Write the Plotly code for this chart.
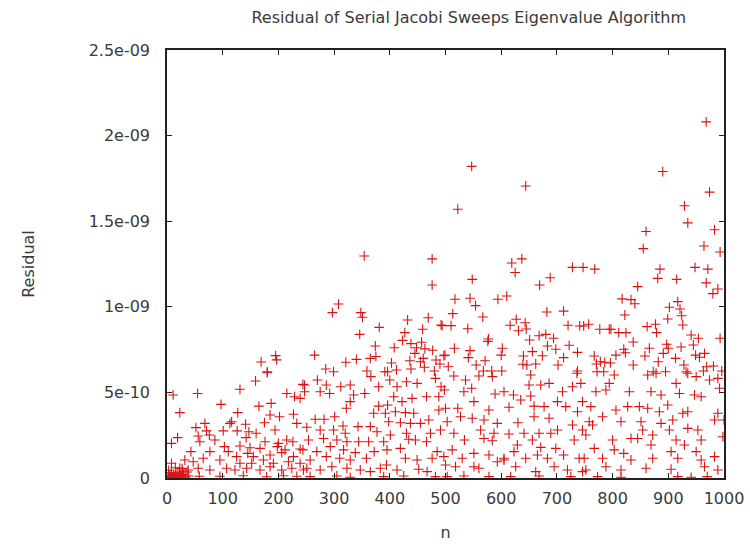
import plotly.graph_objects as go

TITLE = "Residual of Serial Jacobi Sweeps Eigenvalue Algorithm"
X_LABEL = "n"
Y_LABEL = "Residual"
x_ticks = [0, 100, 200, 300, 400, 500, 600, 700, 800, 900, 1000]
y_tick_vals = [0, 5e-10, 1e-9, 1.5e-9, 2e-9, 2.5e-9]
y_tick_text = ["0", "5e-10", "1e-09", "1.5e-09", "2e-09", "2.5e-09"]
UNIT = 1e-10  # residuals below are listed in units of 1e-10

# (n, residual / 1e-10), grouped by region
high_points = [
    (968, 20.8), (547, 18.2), (890, 17.9), (644, 17.06), (974, 16.7), (929, 15.9),
    (522, 15.7), (935, 14.9), (983, 14.5), (860, 14.4), (964, 13.55), (855, 13.4),
    (993, 13.2), (354, 12.97), (476, 12.8), (637, 12.8), (619, 12.56), (728, 12.3),
    (747, 12.3), (948, 12.3), (768, 12.2), (885, 12.2), (971, 12.2), (625, 12.0),
    (881, 11.66), (688, 11.7), (915, 11.6), (548, 11.6), (968, 11.4), (669, 11.27),
    (476, 11.27), (845, 11.18), (989, 11.04), (980, 10.77), (610, 10.63), (544, 10.5),
    (817, 10.46), (517, 10.44), (594, 10.44), (833, 10.42), (917, 10.3), (840, 10.18),
    (308, 10.16), (554, 10.07), (902, 9.97), (921, 9.87), (712, 9.75), (682, 9.7),
    (297, 9.66), (348, 9.66), (513, 9.6), (822, 9.52), (924, 9.48), (567, 9.4),
    (351, 9.39), (469, 9.36), (899, 9.29), (627, 9.27), (432, 9.23), (643, 9.07),
]
upper_mid_points = [
    (748, 8.88), (757, 8.98), (877, 8.98), (492, 8.94), (926, 8.94), (494, 8.9),
    (510, 8.9), (616, 8.92), (720, 8.92), (741, 8.88), (862, 8.84), (381, 8.8),
    (540, 8.72), (645, 8.7), (459, 8.69), (777, 8.69), (794, 8.69), (797, 8.69),
    (631, 8.6), (811, 8.49), (824, 8.49), (879, 8.49), (427, 8.49), (346, 8.39),
    (680, 8.39), (941, 8.35), (668, 8.31), (954, 8.16), (993, 8.16), (694, 8.16),
    (577, 8.12), (651, 8.06), (423, 8.04), (576, 7.98), (837, 7.94), (457, 7.93),
    (438, 7.85), (897, 7.81), (945, 7.77), (722, 7.75), (374, 7.71), (683, 7.71),
    (923, 7.65), (408, 7.61), (448, 7.61), (516, 7.58), (602, 7.58), (866, 7.58),
    (900, 7.58), (463, 7.54), (698, 7.52), (820, 7.52), (477, 7.46), (544, 7.44),
    (656, 7.38), (737, 7.34), (823, 7.32), (445, 7.28), (891, 7.28), (965, 7.28),
    (265, 7.18), (499, 7.18), (600, 7.18), (806, 7.18), (949, 7.18), (195, 7.15),
    (497, 7.14), (674, 7.14), (640, 7.13), (767, 7.13), (858, 7.13), (375, 7.1),
    (956, 7.05), (541, 7.03), (712, 7.03), (365, 6.99), (460, 6.99), (913, 6.99),
    (340, 6.93), (197, 6.9), (483, 6.89), (436, 6.85), (571, 6.85), (455, 6.79),
    (778, 6.79), (882, 6.79), (169, 6.78), (321, 6.76), (786, 6.76), (403, 6.72),
    (796, 6.72), (490, 6.66), (662, 6.66), (771, 6.66), (639, 6.64), (555, 6.6),
    (646, 6.6), (702, 6.6), (837, 6.6), (928, 6.6), (981, 6.54), (505, 6.5),
    (969, 6.5), (462, 6.47), (285, 6.37), (438, 6.37), (412, 6.31), (359, 6.25),
    (480, 6.25), (568, 6.25), (583, 6.25), (601, 6.25), (737, 6.25), (963, 6.25),
    (996, 6.25), (299, 6.21), (391, 6.21), (396, 6.21), (772, 6.21), (784, 6.21),
    (873, 6.21), (895, 6.21), (932, 6.21), (180, 6.2),
]
mid_points = [
    (180, 6.15), (736, 6.12), (878, 6.12), (935, 6.12), (653, 6.02), (803, 6.02),
    (863, 6.02), (515, 5.96), (560, 5.96), (366, 5.92), (584, 5.92), (950, 5.92),
    (482, 5.82), (989, 5.82), (270, 5.72), (400, 5.72), (536, 5.72), (974, 5.72),
    (159, 5.67), (430, 5.62), (449, 5.53), (686, 5.53), (743, 5.53), (794, 5.53),
    (914, 5.53), (244, 5.47), (247, 5.43), (286, 5.43), (329, 5.43), (650, 5.43),
    (671, 5.43), (312, 5.33), (380, 5.33), (413, 5.33), (492, 5.33), (728, 5.33),
    (547, 5.24), (992, 5.24), (131, 5.18), (498, 5.14), (788, 5.14), (247, 5.04),
    (275, 5.04), (533, 5.04), (605, 5.04), (710, 5.04), (770, 5.04), (830, 5.04),
    (869, 5.04), (55, 4.94), (215, 4.94), (292, 4.94), (355, 4.94), (920, 4.94),
    (589, 4.91), (11, 4.85), (335, 4.85), (622, 4.85), (887, 4.85), (947, 4.85),
    (653, 4.79), (229, 4.75), (407, 4.75), (466, 4.75), (488, 4.75), (959, 4.75),
    (239, 4.65), (440, 4.65), (635, 4.56), (329, 4.46), (422, 4.46), (551, 4.46),
    (701, 4.46), (746, 4.46), (187, 4.36), (97, 4.3), (396, 4.26), (899, 4.26),
    (165, 4.2), (380, 4.2), (659, 4.2), (677, 4.17), (716, 4.17), (761, 4.17),
    (827, 4.17), (848, 4.17), (614, 4.13), (322, 4.07), (500, 4.07), (522, 4.07),
    (863, 4.07), (488, 3.97), (578, 3.97), (806, 3.97), (410, 3.87), (737, 3.87),
    (884, 3.87), (935, 3.87), (23, 3.82), (127, 3.82), (428, 3.82), (371, 3.78),
    (392, 3.78), (443, 3.78), (926, 3.78), (989, 3.78), (227, 3.72), (185, 3.68),
    (202, 3.58), (301, 3.58), (527, 3.58), (659, 3.58), (782, 3.58), (548, 3.49),
    (686, 3.49), (266, 3.43), (282, 3.43), (470, 3.39), (569, 3.39), (908, 3.39),
    (983, 3.39), (1000, 3.39), (116, 3.29), (398, 3.29), (503, 3.29), (758, 3.29),
    (815, 3.29), (851, 3.29), (175, 3.23), (419, 3.23), (630, 3.23), (68, 3.19),
    (113, 3.19), (233, 3.19), (437, 3.19), (455, 3.19), (593, 3.19), (887, 3.19),
    (141, 3.14), (728, 3.1), (764, 3.1), (316, 3.04), (343, 3.0), (365, 3.0),
]
low_points = [
    (251, 2.96), (52, 2.94), (935, 2.9), (194, 2.8), (275, 2.8), (299, 2.8),
    (491, 2.8), (563, 2.8), (701, 2.8), (746, 2.8), (854, 2.8), (902, 2.8),
    (953, 2.8), (71, 2.75), (101, 2.75), (126, 2.75), (147, 2.7), (377, 2.7),
    (160, 2.61), (320, 2.61), (430, 2.61), (473, 2.61), (515, 2.61), (587, 2.61),
    (641, 2.61), (668, 2.61), (689, 2.61), (614, 2.57), (76, 2.51), (401, 2.51),
    (752, 2.51), (872, 2.51), (56, 2.45), (998, 2.41), (19, 2.36), (142, 2.36),
    (281, 2.31), (569, 2.31), (833, 2.31), (845, 2.31), (434, 2.26), (86, 2.22),
    (215, 2.22), (254, 2.22), (305, 2.22), (446, 2.22), (534, 2.22), (656, 2.22),
    (731, 2.22), (800, 2.22), (914, 2.22), (959, 2.22), (584, 2.18), (59, 2.12),
    (176, 2.12), (226, 2.12), (323, 2.12), (344, 2.12), (362, 2.12), (389, 2.12),
    (466, 2.12), (8, 2.02), (200, 2.02), (629, 1.93), (869, 1.93), (929, 1.93),
    (131, 1.87), (103, 1.83), (198, 1.83), (293, 1.83), (671, 1.79), (149, 1.77),
    (167, 1.73), (419, 1.73), (698, 1.73), (767, 1.73), (239, 1.69), (212, 1.64),
    (244, 1.64), (317, 1.64), (395, 1.64), (512, 1.64), (803, 1.64), (43, 1.54),
    (77, 1.54), (110, 1.54), (269, 1.54), (372, 1.54), (485, 1.54), (623, 1.54),
    (905, 1.54), (950, 1.54), (206, 1.48), (338, 1.48), (145, 1.44), (551, 1.44),
    (820, 1.44), (185, 1.34), (578, 1.34), (665, 1.34), (712, 1.34), (125, 1.25),
    (155, 1.25), (227, 1.25), (286, 1.25), (497, 1.25), (983, 1.25), (65, 1.15),
    (310, 1.15), (358, 1.15), (428, 1.15), (476, 1.15), (530, 1.15), (605, 1.15),
    (644, 1.15), (683, 1.15), (740, 1.15), (749, 1.15), (782, 1.15), (872, 1.15),
    (917, 1.15), (32, 1.05), (95, 1.05), (173, 1.05), (257, 1.05), (329, 1.05),
    (449, 1.05), (605, 1.05), (833, 1.05), (959, 1.05), (47, 0.95), (218, 0.95),
    (593, 0.95),
]
floor_points = [
    (8, 0.86), (131, 0.86), (152, 0.86), (191, 0.86), (239, 0.86), (394, 0.76),
    (500, 0.76), (185, 0.66), (296, 0.66), (518, 0.66), (551, 0.66), (626, 0.66),
    (695, 0.66), (788, 0.66), (965, 0.66), (23, 0.57), (56, 0.57), (107, 0.57),
    (143, 0.57), (224, 0.57), (251, 0.57), (323, 0.57), (383, 0.57), (560, 0.57),
    (860, 0.57), (15, 0.6), (27, 0.55), (452, 0.51), (905, 0.51), (38, 0.47),
    (77, 0.47), (122, 0.47), (167, 0.47), (206, 0.47), (245, 0.47), (275, 0.47),
    (347, 0.47), (413, 0.47), (719, 0.47), (752, 0.47), (815, 0.47), (989, 0.47),
    (3, 0.45), (28, 0.4), (365, 0.37), (467, 0.37), (662, 0.37), (746, 0.37),
    (36, 0.35), (8, 0.3), (22, 0.3), (18, 0.25), (12, 0.2), (30, 0.2),
    (4, 0.15), (24, 0.15), (137, 0.13), (209, 0.13), (16, 0.12), (39, 0.12),
    (305, 0.12), (425, 0.12), (533, 0.12), (668, 0.12), (6, 0.1), (26, 0.1),
    (58, 0.1), (95, 0.1), (233, 0.1), (14, 0.08), (257, 0.08), (389, 0.08),
    (482, 0.08), (503, 0.08), (578, 0.08), (617, 0.08), (725, 0.08), (773, 0.08),
    (917, 0.08), (970, 0.08), (179, 0.07), (2, 0.05), (20, 0.05), (33, 0.05),
    (329, 0.04), (815, 0.04), (941, 0.04), (10, 0.02),
]

all_points = high_points + upper_mid_points + mid_points + low_points + floor_points
n_values = [p[0] for p in all_points]
residuals = [p[1] * UNIT for p in all_points]

RED = "#dc1212"
fig = go.Figure()
fig.add_trace(go.Scatter(
    x=n_values, y=residuals, mode="markers",
    marker=dict(symbol="cross-thin-open", size=7, color=RED,
                line=dict(color=RED, width=1.1)),
    showlegend=False, hoverinfo="x+y",
))

FONT = "DejaVu Sans"
TEXT = "#3a3a3a"
fig.update_layout(
    width=750, height=546,
    margin=dict(l=167, r=26, t=50, b=68),
    paper_bgcolor="white", plot_bgcolor="white",
    font=dict(family=FONT, size=16, color=TEXT),
    title=dict(text=TITLE, x=0.625, xanchor="center", y=0.968, yanchor="middle",
               font=dict(family=FONT, size=16, color=TEXT)),
    xaxis=dict(
        range=[0, 1000], tickvals=x_ticks, showgrid=False, zeroline=False,
        automargin=False,
        showline=True, linecolor="#222222", linewidth=1.5, mirror="ticks",
        ticks="inside", ticklen=5, tickcolor="#222222", tickwidth=1,
        ticklabelstandoff=5,
        tickfont=dict(family=FONT, size=16, color=TEXT),
        title=dict(text=X_LABEL, standoff=20, font=dict(family=FONT, size=16, color=TEXT)),
    ),
    yaxis=dict(
        range=[0, 2.5e-9], tickvals=y_tick_vals, ticktext=y_tick_text,
        showgrid=False, zeroline=False,
        automargin=False,
        showline=True, linecolor="#222222", linewidth=1.5, mirror="ticks",
        ticks="inside", ticklen=5, tickcolor="#222222", tickwidth=1,
        ticklabelstandoff=12,
        tickfont=dict(family=FONT, size=16, color=TEXT),
        title=dict(text=Y_LABEL, standoff=50, font=dict(family=FONT, size=16, color=TEXT)),
    ),
)
fig.write_html("out.html")
